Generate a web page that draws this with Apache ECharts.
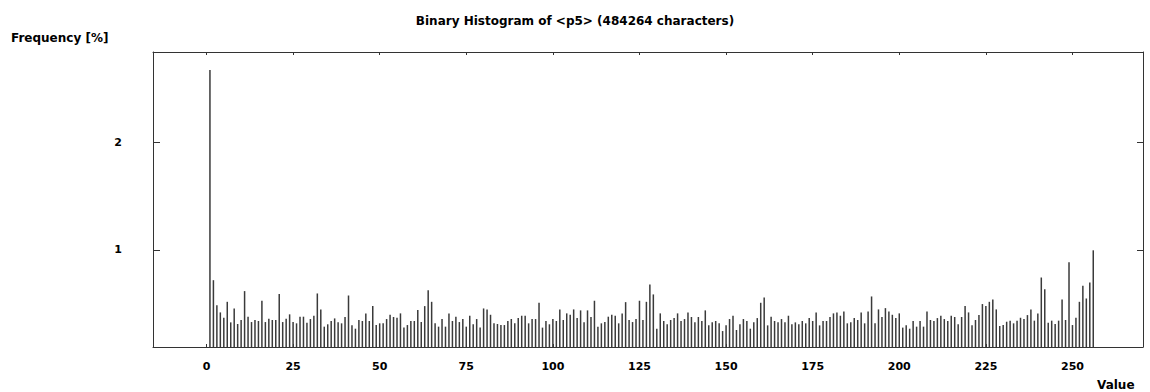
<!DOCTYPE html>
<html>
<head>
<meta charset="utf-8">
<script src="https://cdn.jsdelivr.net/npm/echarts@6/dist/echarts.min.js"></script>
<style>
  html, body { margin: 0; padding: 0; background: #ffffff; }
  #chart { width: 1150px; height: 392px; }
</style>
</head>
<body>
<div id="chart"></div>
<script>
// Title and axis texts
const chartTitle = 'Binary Histogram of <p5> (484264 characters)';
const yAxisTitle = 'Frequency [%]';
const xAxisTitle = 'Value';

// Tick values shown on the axes
const xTickValues = [0, 25, 50, 75, 100, 125, 150, 175, 200, 225, 250];
const yTickValues = [1, 2];

// Position (on the value axis) of the first bar; bars follow one unit apart
const firstBarPosition = 1;

// Frequency (%) of each bar (256 bars)
const frequencies = [
  2.68, 0.716, 0.483, 0.415, 0.365, 0.514, 0.322, 0.452, 0.307, 0.344,
  0.614, 0.375, 0.325, 0.344, 0.335, 0.524, 0.325, 0.356, 0.344, 0.344,
  0.586, 0.325, 0.356, 0.397, 0.325, 0.313, 0.375, 0.375, 0.319, 0.353,
  0.384, 0.592, 0.443, 0.282, 0.304, 0.335, 0.359, 0.322, 0.313, 0.372,
  0.573, 0.295, 0.263, 0.344, 0.335, 0.406, 0.335, 0.474, 0.297, 0.313,
  0.313, 0.353, 0.393, 0.372, 0.366, 0.406, 0.273, 0.297, 0.335, 0.335,
  0.437, 0.325, 0.474, 0.623, 0.514, 0.313, 0.282, 0.353, 0.282, 0.406,
  0.335, 0.375, 0.325, 0.353, 0.282, 0.384, 0.304, 0.353, 0.273, 0.452,
  0.443, 0.393, 0.313, 0.307, 0.297, 0.297, 0.335, 0.353, 0.313, 0.362,
  0.384, 0.384, 0.313, 0.353, 0.353, 0.505, 0.273, 0.335, 0.304, 0.353,
  0.335, 0.443, 0.344, 0.406, 0.393, 0.443, 0.362, 0.434, 0.322, 0.434,
  0.372, 0.524, 0.282, 0.313, 0.325, 0.375, 0.393, 0.384, 0.313, 0.406,
  0.511, 0.344, 0.325, 0.353, 0.524, 0.344, 0.514, 0.676, 0.583, 0.263,
  0.406, 0.335, 0.304, 0.344, 0.362, 0.406, 0.335, 0.353, 0.415, 0.372,
  0.322, 0.372, 0.335, 0.434, 0.294, 0.322, 0.335, 0.313, 0.241, 0.294,
  0.353, 0.384, 0.251, 0.304, 0.353, 0.335, 0.263, 0.322, 0.362, 0.505,
  0.555, 0.294, 0.375, 0.335, 0.322, 0.353, 0.322, 0.384, 0.304, 0.322,
  0.304, 0.335, 0.313, 0.362, 0.335, 0.415, 0.294, 0.335, 0.335, 0.372,
  0.406, 0.415, 0.384, 0.424, 0.313, 0.322, 0.362, 0.344, 0.415, 0.313,
  0.424, 0.564, 0.313, 0.443, 0.372, 0.455, 0.424, 0.393, 0.362, 0.406,
  0.273, 0.294, 0.263, 0.335, 0.282, 0.335, 0.282, 0.424, 0.344, 0.335,
  0.362, 0.384, 0.353, 0.335, 0.384, 0.372, 0.304, 0.372, 0.474, 0.415,
  0.296, 0.344, 0.390, 0.493, 0.474, 0.514, 0.536, 0.443, 0.288, 0.297,
  0.328, 0.338, 0.313, 0.338, 0.365, 0.353, 0.390, 0.443, 0.338, 0.406,
  0.741, 0.632, 0.319, 0.338, 0.307, 0.338, 0.536, 0.344, 0.883, 0.297,
  0.365, 0.514, 0.663, 0.545, 0.694, 0.995
];

const barData = frequencies.map((v, i) => [firstBarPosition + i, v]);

const FONT = '"DejaVu Sans", "Liberation Sans", sans-serif';
const LINE = '#333333';
const X_MIN = -15.44, X_MAX = 270.36;
const Y_MIN = 0.092, Y_MAX = 2.847;

const chart = echarts.init(document.getElementById('chart'), null, { renderer: 'svg' });

const axisLineStyle = { show: true, onZero: false, lineStyle: { color: LINE, width: 1 } };

const option = {
  backgroundColor: '#ffffff',
  animation: false,
  title: {
    text: chartTitle,
    left: 'center',
    top: 10,
    textStyle: { fontFamily: FONT, fontWeight: 'bold', fontSize: 12, color: '#000' }
  },
  graphic: [
    {
      type: 'text', left: 11, top: 32,
      style: { text: yAxisTitle, font: 'bold 12px ' + FONT, fill: '#000' }
    },
    {
      type: 'text', left: 1097, top: 379,
      style: { text: xAxisTitle, font: 'bold 12px ' + FONT, fill: '#000' }
    }
  ],
  grid: { left: 153, right: 7, top: 52, bottom: 45, containLabel: false },
  xAxis: [
    {
      type: 'value', position: 'bottom', min: X_MIN, max: X_MAX,
      axisLine: axisLineStyle,
      axisTick: { show: true, inside: true, length: 3, customValues: xTickValues, lineStyle: { color: LINE } },
      axisLabel: {
        show: true, customValues: xTickValues, margin: 14,
        fontFamily: FONT, fontWeight: 'bold', fontSize: 11, color: '#000'
      },
      splitLine: { show: false }
    },
    {
      type: 'value', position: 'top', min: X_MIN, max: X_MAX,
      axisLine: axisLineStyle,
      axisTick: { show: true, inside: true, length: 3, customValues: xTickValues, lineStyle: { color: LINE } },
      axisLabel: { show: false },
      splitLine: { show: false }
    }
  ],
  yAxis: [
    {
      type: 'value', position: 'left', min: Y_MIN, max: Y_MAX,
      axisLine: axisLineStyle,
      axisTick: { show: true, inside: true, length: 7, customValues: yTickValues, lineStyle: { color: LINE } },
      axisLabel: {
        show: true, customValues: yTickValues, margin: 31,
        fontFamily: FONT, fontWeight: 'bold', fontSize: 11, color: '#000'
      },
      splitLine: { show: false }
    },
    {
      type: 'value', position: 'right', min: Y_MIN, max: Y_MAX,
      axisLine: axisLineStyle,
      axisTick: { show: true, inside: true, length: 6, customValues: yTickValues, lineStyle: { color: LINE } },
      axisLabel: { show: false },
      splitLine: { show: false }
    }
  ],
  series: [
    {
      type: 'bar',
      xAxisIndex: 0,
      yAxisIndex: 0,
      data: barData,
      barWidth: 1.5,
      itemStyle: { color: '#3a3a3a' },
      silent: true
    }
  ]
};

chart.setOption(option);
</script>
</body>
</html>
